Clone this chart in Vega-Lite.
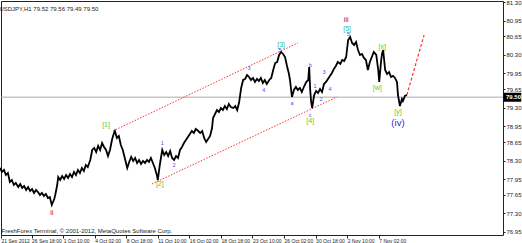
{
  "$schema": "https://vega.github.io/schema/vega-lite/v6.json",
  "width": 502,
  "height": 234,
  "autosize": {"type": "none"},
  "padding": {"left": 1, "top": 1, "right": 19, "bottom": 8},
  "background": "#ffffff",
  "config": {
    "view": {"stroke": "#222222", "strokeWidth": 1},
    "font": "Liberation Sans",
    "axis": {"labelFont": "Liberation Sans", "labelColor": "#222222", "grid": false, "domain": false, "tickColor": "#222222"}
  },
  "title": {"text": "USDJPY,H1  79.52 79.56 79.49 79.50", "anchor": "start", "orient": "top", "offset": -13, "dx": 3, "fontSize": 6, "fontWeight": "normal", "color": "#222222", "font": "Liberation Sans"},
  "datasets": {
    "series": [
      {"t":0,"p":78.160},{"t":4,"p":78.085},{"t":8,"p":78.123},{"t":12,"p":78.028},{"t":16,"p":78.066},{"t":20,"p":77.896},{"t":24,"p":77.933},{"t":28,"p":77.839},{"t":32,"p":77.877},{"t":37,"p":77.801},{"t":41,"p":77.858},{"t":45,"p":77.782},{"t":49,"p":77.820},{"t":53,"p":77.744},{"t":57,"p":77.801},{"t":61,"p":77.725},{"t":65,"p":77.763},{"t":69,"p":77.688},{"t":73,"p":77.744},{"t":77,"p":77.706},{"t":81,"p":77.650},{"t":85,"p":77.688},{"t":89,"p":77.631},{"t":93,"p":77.669},{"t":97,"p":77.593},{"t":101,"p":77.612},{"t":105,"p":77.461},{"t":110,"p":77.574},{"t":112,"p":77.650},{"t":116,"p":77.839},{"t":118,"p":77.990},{"t":122,"p":77.933},{"t":126,"p":78.009},{"t":130,"p":77.952},{"t":134,"p":78.028},{"t":138,"p":77.971},{"t":142,"p":78.047},{"t":146,"p":77.990},{"t":150,"p":78.085},{"t":154,"p":78.028},{"t":158,"p":78.123},{"t":162,"p":78.066},{"t":166,"p":78.160},{"t":170,"p":78.104},{"t":174,"p":78.217},{"t":178,"p":78.179},{"t":183,"p":78.312},{"t":187,"p":78.501},{"t":191,"p":78.539},{"t":195,"p":78.463},{"t":199,"p":78.577},{"t":203,"p":78.501},{"t":207,"p":78.633},{"t":211,"p":78.558},{"t":215,"p":78.501},{"t":219,"p":78.387},{"t":223,"p":78.501},{"t":227,"p":78.690},{"t":231,"p":78.822},{"t":233,"p":78.860},{"t":237,"p":78.728},{"t":241,"p":78.766},{"t":245,"p":78.595},{"t":249,"p":78.501},{"t":254,"p":78.312},{"t":258,"p":78.160},{"t":262,"p":78.274},{"t":266,"p":78.369},{"t":270,"p":78.293},{"t":274,"p":78.350},{"t":278,"p":78.255},{"t":282,"p":78.312},{"t":286,"p":78.236},{"t":290,"p":78.293},{"t":294,"p":78.255},{"t":298,"p":78.312},{"t":302,"p":78.274},{"t":306,"p":78.350},{"t":310,"p":78.255},{"t":314,"p":78.160},{"t":318,"p":78.028},{"t":320,"p":77.933},{"t":324,"p":78.217},{"t":329,"p":78.501},{"t":333,"p":78.406},{"t":337,"p":78.463},{"t":341,"p":78.387},{"t":345,"p":78.482},{"t":349,"p":78.350},{"t":353,"p":78.312},{"t":357,"p":78.387},{"t":361,"p":78.350},{"t":365,"p":78.501},{"t":369,"p":78.558},{"t":373,"p":78.633},{"t":377,"p":78.690},{"t":381,"p":78.747},{"t":385,"p":78.803},{"t":389,"p":78.860},{"t":393,"p":78.822},{"t":397,"p":78.898},{"t":402,"p":78.860},{"t":406,"p":78.822},{"t":410,"p":78.860},{"t":414,"p":78.728},{"t":418,"p":78.652},{"t":422,"p":78.709},{"t":426,"p":78.766},{"t":430,"p":78.917},{"t":432,"p":79.106},{"t":436,"p":79.182},{"t":440,"p":79.257},{"t":444,"p":79.220},{"t":448,"p":79.295},{"t":452,"p":79.257},{"t":456,"p":79.333},{"t":460,"p":79.276},{"t":464,"p":79.371},{"t":468,"p":79.314},{"t":473,"p":79.295},{"t":477,"p":79.333},{"t":481,"p":79.257},{"t":485,"p":79.409},{"t":489,"p":79.674},{"t":493,"p":79.825},{"t":497,"p":79.844},{"t":501,"p":79.919},{"t":505,"p":79.882},{"t":509,"p":79.825},{"t":513,"p":79.863},{"t":517,"p":79.787},{"t":521,"p":79.844},{"t":525,"p":79.806},{"t":529,"p":79.863},{"t":533,"p":79.768},{"t":537,"p":79.825},{"t":541,"p":79.749},{"t":546,"p":79.825},{"t":550,"p":79.863},{"t":554,"p":80.014},{"t":558,"p":80.146},{"t":562,"p":80.165},{"t":566,"p":80.298},{"t":570,"p":80.355},{"t":574,"p":80.317},{"t":578,"p":80.260},{"t":582,"p":80.090},{"t":586,"p":79.938},{"t":588,"p":79.825},{"t":592,"p":79.503},{"t":596,"p":79.636},{"t":600,"p":79.693},{"t":604,"p":79.636},{"t":608,"p":79.674},{"t":612,"p":79.598},{"t":617,"p":79.711},{"t":621,"p":79.787},{"t":625,"p":79.825},{"t":627,"p":80.071},{"t":629,"p":79.636},{"t":631,"p":79.409},{"t":633,"p":79.295},{"t":637,"p":79.541},{"t":641,"p":79.617},{"t":645,"p":79.579},{"t":649,"p":79.655},{"t":653,"p":79.598},{"t":657,"p":79.749},{"t":661,"p":79.787},{"t":665,"p":79.844},{"t":669,"p":79.901},{"t":673,"p":79.957},{"t":677,"p":80.033},{"t":681,"p":80.090},{"t":685,"p":80.165},{"t":690,"p":80.128},{"t":694,"p":80.203},{"t":698,"p":80.184},{"t":702,"p":80.260},{"t":704,"p":80.430},{"t":706,"p":80.581},{"t":710,"p":80.638},{"t":714,"p":80.525},{"t":718,"p":80.487},{"t":722,"p":80.544},{"t":726,"p":80.392},{"t":730,"p":80.298},{"t":734,"p":80.317},{"t":738,"p":80.241},{"t":742,"p":80.203},{"t":746,"p":80.014},{"t":750,"p":80.165},{"t":754,"p":80.260},{"t":758,"p":80.355},{"t":763,"p":80.298},{"t":767,"p":80.014},{"t":769,"p":79.787},{"t":773,"p":80.203},{"t":775,"p":80.336},{"t":777,"p":80.392},{"t":781,"p":80.014},{"t":785,"p":79.938},{"t":789,"p":79.976},{"t":793,"p":79.882},{"t":797,"p":79.901},{"t":801,"p":79.863},{"t":805,"p":79.787},{"t":807,"p":79.541},{"t":811,"p":79.333},{"t":815,"p":79.466},{"t":817,"p":79.428},{"t":821,"p":79.522},{"t":825,"p":79.541}
    ],
    "channel": [
      {"line":"upper","t":229,"p":78.860},{"line":"upper","t":604,"p":80.525},
      {"line":"lower","t":308,"p":77.858},{"line":"lower","t":683,"p":79.503}
    ],
    "projection": [{"t":825,"p":79.541},{"t":860,"p":80.676}],
    "labels": [
      {"t":105,"p":77.309,"txt":"ii","grp":"red"},
      {"t":702,"p":80.960,"txt":"iii","grp":"red"},
      {"t":215,"p":78.974,"txt":"[1]","grp":"green"},
      {"t":324,"p":77.858,"txt":"[2]","grp":"green"},
      {"t":570,"p":80.487,"txt":"[3]","grp":"teal"},
      {"t":629,"p":79.049,"txt":"[4]","grp":"green"},
      {"t":704,"p":80.790,"txt":"[5]","grp":"teal"},
      {"t":765,"p":79.674,"txt":"[w]","grp":"green"},
      {"t":775,"p":80.449,"txt":"[x]","grp":"green"},
      {"t":807,"p":79.220,"txt":"[y]","grp":"green"}
    ],
    "small": [
      {"t":329,"p":78.633,"txt":"1"},{"t":353,"p":78.217,"txt":"2"},{"t":505,"p":80.052,"txt":"3"},{"t":535,"p":79.636,"txt":"4"},{"t":568,"p":80.392,"txt":"5"},
      {"t":592,"p":79.390,"txt":"a"},{"t":629,"p":80.109,"txt":"b"},{"t":629,"p":79.163,"txt":"c"},
      {"t":639,"p":79.711,"txt":"1"},{"t":651,"p":79.466,"txt":"2"},{"t":657,"p":79.976,"txt":"3"},{"t":669,"p":79.655,"txt":"4"},{"t":706,"p":80.695,"txt":"5"}
    ],
    "wave": [{"t":807,"p":79.012,"txt":"(iv)"}],
    "price": [{"p":79.50,"txt":"79.50","t1":1021,"t2":1057,"tt":1026,"lo":79.415,"hi":79.585}],
    "credit": [{"t":3,"p":76.915,"txt":"FreshForex Terminal, © 2001-2012, MetaQuotes Software Corp."}]
  },
  "encoding": {
    "x": {"field": "t", "type": "quantitative", "scale": {"domain": [2, 1020], "nice": false, "zero": false},
      "axis": {"orient": "bottom", "title": null, "values": [2,64,128,192,256,320,384,448,512,576,640,704,768],
        "labelExpr": "['21 Sep 2012','26 Sep 18:00','1 Oct 10:00','4 Oct 02:00','8 Oct 18:00','11 Oct 10:00','16 Oct 02:00','18 Oct 18:00','23 Oct 10:00','26 Oct 02:00','30 Oct 18:00','2 Nov 10:00','7 Nov 02:00'][round(datum.value/64)]",
        "labelAlign": "left", "labelFontSize": 5, "tickSize": 3, "labelPadding": 0, "labelOverlap": false, "labelBound": false, "labelFlush": false}},
    "y": {"field": "p", "type": "quantitative", "scale": {"domain": [76.893, 81.319], "nice": false, "zero": false},
      "axis": {"orient": "right", "title": null, "values": [76.95,77.30,77.65,77.95,78.30,78.65,78.95,79.30,79.65,79.95,80.30,80.65,80.95,81.30],
        "format": ".2f", "labelFontSize": 6, "tickSize": 2, "labelPadding": 1, "labelOverlap": false, "labelBaseline": "middle"}}
  },
  "layer": [
    {"data": {"name": "price"}, "mark": {"type": "rule", "color": "#aaaaaa", "strokeWidth": 1}, "encoding": {"y": {"field": "p", "type": "quantitative"}, "x": null}},
    {"data": {"name": "channel"}, "mark": {"type": "line", "color": "#ff3030", "strokeWidth": 1, "strokeDash": [1.5, 1.5]}, "encoding": {"detail": {"field": "line"}}},
    {"data": {"name": "projection"}, "mark": {"type": "line", "color": "#ff3030", "strokeWidth": 1.2, "strokeDash": [3, 2]}, "encoding": {}},
    {"data": {"name": "series"}, "mark": {"type": "line", "color": "#000000", "strokeWidth": 1.8, "strokeJoin": "miter"}, "encoding": {}},
    {"data": {"name": "labels"}, "mark": {"type": "text", "fontSize": 7, "baseline": "middle", "align": "center"},
      "encoding": {"text": {"field": "txt"}, "color": {"field": "grp", "type": "nominal", "scale": {"domain": ["red","green","teal"], "range": ["#cc0000","#55cc33","#33bb99"]}, "legend": null}}},
    {"data": {"name": "small"}, "mark": {"type": "text", "fontSize": 5.5, "baseline": "middle", "align": "center", "color": "#4a4aff"}, "encoding": {"text": {"field": "txt"}}},
    {"data": {"name": "wave"}, "mark": {"type": "text", "fontSize": 9.5, "baseline": "middle", "align": "center", "color": "#2a2ae0"}, "encoding": {"text": {"field": "txt"}}},
    {"data": {"name": "credit"}, "mark": {"type": "text", "fontSize": 6, "baseline": "bottom", "align": "left", "color": "#222222"}, "encoding": {"text": {"field": "txt"}}},
    {"data": {"name": "price"}, "mark": {"type": "rect", "color": "#000000"},
      "encoding": {"x": {"field": "t1", "type": "quantitative"}, "x2": {"field": "t2"}, "y": {"field": "lo", "type": "quantitative"}, "y2": {"field": "hi"}}},
    {"data": {"name": "price"}, "mark": {"type": "text", "fontSize": 6, "baseline": "middle", "align": "left", "color": "#ffffff", "fontWeight": "bold"},
      "encoding": {"x": {"field": "tt", "type": "quantitative"}, "text": {"field": "txt"}}}
  ]
}
